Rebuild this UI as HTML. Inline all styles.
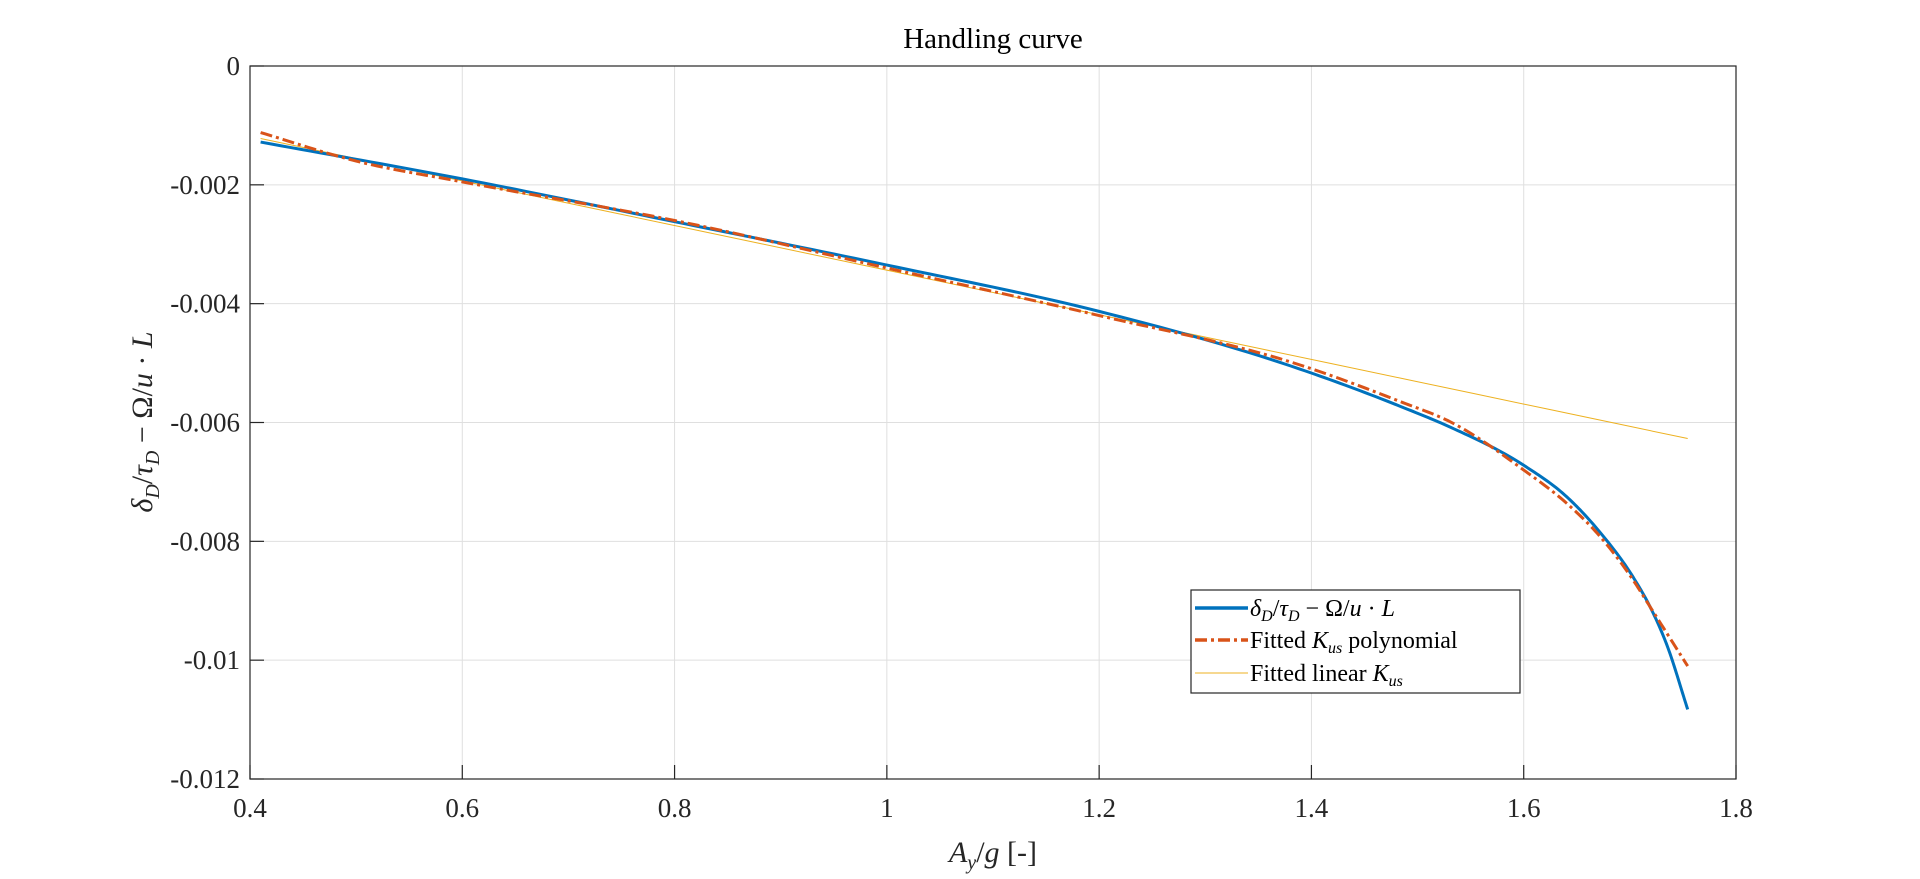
<!DOCTYPE html>
<html><head><meta charset="utf-8"><style>
html,body{margin:0;padding:0;background:#fff;}
svg{display:block;font-family:"Liberation Serif",serif;}
</style></head><body>
<svg id="chart" width="1920" height="879" viewBox="0 0 1920 879" xmlns="http://www.w3.org/2000/svg">
<rect x="0" y="0" width="1920" height="879" fill="#fff"/>
<g id="grid"></g>
<g id="series"></g>
<rect x="250" y="66" width="1486" height="713" fill="none" stroke="#262626" stroke-width="1.2"/>
<g id="ticks"></g>
<text x="993" y="48" font-size="29" text-anchor="middle" fill="#000">Handling curve</text>
<text x="993" y="862" font-size="30" text-anchor="middle" fill="#262626"><tspan font-style="italic">A</tspan><tspan font-style="italic" font-size="20" dy="7">y</tspan><tspan dy="-7">/</tspan><tspan font-style="italic">g</tspan> [-]</text>
<text transform="translate(152,422) rotate(-90)" font-size="30" text-anchor="middle" fill="#262626"><tspan font-style="italic">δ</tspan><tspan font-style="italic" font-size="20" dy="7">D</tspan><tspan dy="-7">/</tspan><tspan font-style="italic">τ</tspan><tspan font-style="italic" font-size="20" dy="7">D</tspan><tspan dy="-7"> − Ω/</tspan><tspan font-style="italic">u</tspan> · <tspan font-style="italic">L</tspan></text>
<g>
<rect x="1191" y="590" width="329" height="103" fill="#fff" stroke="#262626" stroke-width="1.2"/>
<line x1="1195" y1="608" x2="1248" y2="608" stroke="#0072BD" stroke-width="3.5"/>
<line x1="1195" y1="640" x2="1248" y2="640" stroke="#D95319" stroke-width="3.5" stroke-dasharray="12,4,3,4"/>
<line x1="1195" y1="673" x2="1248" y2="673" stroke="#EDB120" stroke-width="1"/>
<text x="1250" y="616" font-size="24" fill="#000"><tspan font-style="italic">δ</tspan><tspan font-style="italic" font-size="16" dy="5">D</tspan><tspan dy="-5">/</tspan><tspan font-style="italic">τ</tspan><tspan font-style="italic" font-size="16" dy="5">D</tspan><tspan dy="-5"> − Ω/</tspan><tspan font-style="italic">u</tspan> · <tspan font-style="italic">L</tspan></text>
<text x="1250" y="648" font-size="24" fill="#000">Fitted <tspan font-style="italic">K</tspan><tspan font-style="italic" font-size="16" dy="5">us</tspan><tspan dy="-5"> polynomial</tspan></text>
<text x="1250" y="681" font-size="24" fill="#000">Fitted linear <tspan font-style="italic">K</tspan><tspan font-style="italic" font-size="16" dy="5">us</tspan></text>
</g>
</svg>
<script>
const xTicks = [0.4,0.6,0.8,1,1.2,1.4,1.6,1.8];
const xTickLabels = ["0.4","0.6","0.8","1","1.2","1.4","1.6","1.8"];
const yTicks = [0,-0.002,-0.004,-0.006,-0.008,-0.01,-0.012];
const yTickLabels = ["0","-0.002","-0.004","-0.006","-0.008","-0.01","-0.012"];
const dataX = [0.41,0.6,0.8,1.0,1.2,1.389,1.484,1.531,1.6,1.6405,1.672,1.703,1.719,1.735,1.7545];
const dataY = [-0.00128,-0.0019,-0.00262,-0.00335,-0.00413,-0.0051,-0.00573,-0.00608,-0.00672,-0.00725,-0.00785,-0.0086,-0.0091,-0.00975,-0.01083];
const polyX = [0.41,0.5,0.6,0.8,1.0,1.2,1.389,1.484,1.531,1.6,1.6405,1.672,1.703,1.719,1.7545];
const polyY = [-0.00112,-0.0016,-0.00195,-0.0026,-0.0034,-0.0042,-0.00503,-0.00565,-0.00599,-0.0068,-0.00736,-0.00792,-0.00865,-0.0091,-0.0101];
const linX = [0.41,1.7545];
const linY = [-0.00122,-0.00627];

const L=250,R=1736,T=66,B=779;
const sx=v=>L+(v-0.4)/(1.8-0.4)*(R-L);
const sy=v=>T+(0-v)/(0.012)*(B-T);
const NS="http://www.w3.org/2000/svg";
const grid=document.getElementById('grid'),ticks=document.getElementById('ticks'),series=document.getElementById('series');
function mk(tag,attrs,parent){const e=document.createElementNS(NS,tag);for(const k in attrs)e.setAttribute(k,attrs[k]);parent.appendChild(e);return e;}
xTicks.forEach((v,i)=>{
  const x=sx(v);
  const g=mk('line',{x1:x,x2:x,y1:T,y2:B,stroke:'#dfdfdf','stroke-width':1},grid);
  
  
  mk('line',{x1:x,x2:x,y1:B,y2:B-14,stroke:'#262626','stroke-width':1.2},ticks);
  const t=mk('text',{x:x,y:B+38,'font-size':27,'text-anchor':'middle',fill:'#262626'},ticks);
  t.textContent=xTickLabels[i];
  
  
});
yTicks.forEach((v,i)=>{
  const y=sy(v);
  const g=mk('line',{x1:L,x2:R,y1:y,y2:y,stroke:'#dfdfdf','stroke-width':1},grid);
  
  
  mk('line',{x1:L,x2:L+14,y1:y,y2:y,stroke:'#262626','stroke-width':1.2},ticks);
  const t=mk('text',{x:L-10,y:y+9,'font-size':27,'text-anchor':'end',fill:'#262626'},ticks);
  t.textContent=yTickLabels[i];
  
  
});
function smooth(xs,ys){
  const n=xs.length;
  const d=[];for(let i=0;i<n-1;i++)d.push((ys[i+1]-ys[i])/(xs[i+1]-xs[i]));
  const m=[];
  for(let i=0;i<n;i++){
    if(i===0)m.push(d[0]);
    else if(i===n-1)m.push(d[n-2]);
    else{const h0=xs[i]-xs[i-1],h1=xs[i+1]-xs[i];m.push((d[i-1]*h1+d[i]*h0)/(h0+h1));}
  }
  let s='M'+sx(xs[0])+','+sy(ys[0]);
  for(let i=0;i<n-1;i++){
    const h=xs[i+1]-xs[i];
    for(let k=1;k<=20;k++){
      const t=k/20,t2=t*t,t3=t2*t;
      const y=(2*t3-3*t2+1)*ys[i]+(t3-2*t2+t)*h*m[i]+(-2*t3+3*t2)*ys[i+1]+(t3-t2)*h*m[i+1];
      s+=' L'+sx(xs[i]+t*h).toFixed(2)+','+sy(y).toFixed(2);
    }
  }
  return s;
}
const lin=mk('path',{d:smooth(linX,linY),fill:'none',stroke:'#EDB120','stroke-width':1},series);


const dat=mk('path',{d:smooth(dataX,dataY),fill:'none',stroke:'#0072BD','stroke-width':3,'stroke-linejoin':'round'},series);


const pol=mk('path',{d:smooth(polyX,polyY),fill:'none',stroke:'#D95319','stroke-width':3,'stroke-dasharray':'12,4,3,4'},series);


</script>
</body></html>
